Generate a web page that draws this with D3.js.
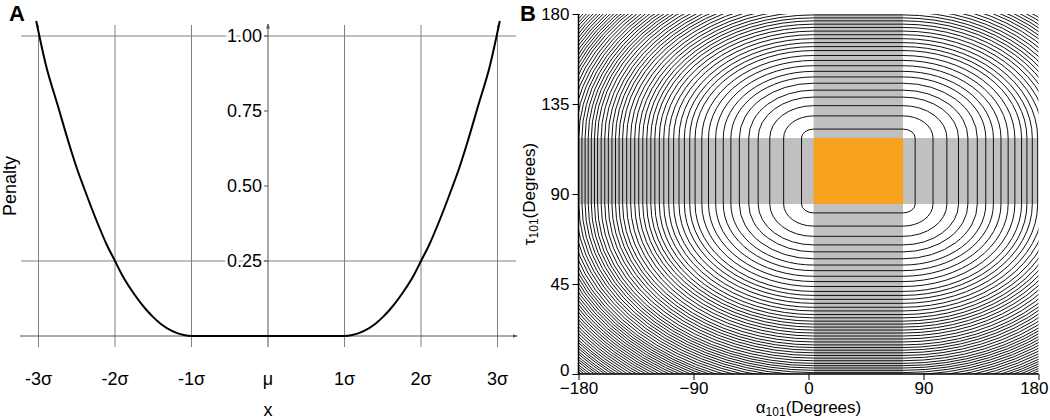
<!DOCTYPE html>
<html>
<head>
<meta charset="utf-8">
<script src="https://cdn.jsdelivr.net/npm/d3@7"></script>
<style>
  body { margin: 0; background: #fff; }
  text { font-family: "Liberation Sans", Arial, sans-serif; fill: #000; }
</style>
</head>
<body>
<script>
'use strict';

// panel A: penalty curve, x in sigma units
const sigmaTicks = [-3, -2, -1, 0, 1, 2, 3];
const sigmaLabels = ["-3σ", "-2σ", "-1σ", "μ", "1σ", "2σ", "3σ"];
const penaltyTicks = [0.25, 0.5, 0.75, 1.0];
const penaltyGrid = [0.25, 1.0];
const curveX = [-3.03, -2.9, -2.75, -2.6, -2.5, -2.4, -2.25, -2.1, -2, -1.9, -1.75, -1.6, -1.5, -1.4, -1.25, -1.1, -1,
                0, 1, 1.1, 1.25, 1.4, 1.5, 1.6, 1.75, 1.9, 2, 2.1, 2.25, 2.4, 2.5, 2.6, 2.75, 2.9, 3.03];
const curveY = [1.05, 0.90, 0.77, 0.64, 0.56, 0.49, 0.39, 0.30, 0.25, 0.20, 0.14, 0.09, 0.063, 0.04, 0.016, 0.003, 0,
                0, 0, 0.003, 0.016, 0.04, 0.063, 0.09, 0.14, 0.20, 0.25, 0.30, 0.39, 0.49, 0.56, 0.64, 0.77, 0.90, 1.05];

// panel B: restraint bands (degrees) and contour offsets (in sigma units beyond the box)
const alphaTicks = [-180, -90, 0, 90, 180];
const tauTicks = [0, 45, 90, 135, 180];
const alphaBand = [4, 74];
const tauBand = [85, 118];
const contourRadii = [0.27, 0.67, 0.98, 1.24, 1.45, 1.66, 1.85, 2.02, 2.19, 2.35, 2.50, 2.65, 2.77, 2.89,
  3.01, 3.13, 3.24, 3.35, 3.45, 3.55, 3.64, 3.73, 3.82, 3.91, 4.00, 4.09, 4.18, 4.27, 4.35, 4.43,
  4.51, 4.59, 4.67, 4.75, 4.83, 4.90, 4.97, 5.04, 5.11, 5.18, 5.25, 5.32, 5.39, 5.46, 5.53, 5.60,
  5.66, 5.72, 5.78, 5.84, 5.90, 5.96, 6.02, 6.08, 6.14, 6.20, 6.26, 6.32, 6.38, 6.44, 6.50, 6.56,
  6.62, 6.68, 6.73, 6.79, 6.84, 6.90, 6.95, 7.01, 7.06, 7.11, 7.17, 7.22, 7.27, 7.32, 7.38, 7.43];

let svg = "";

window.onload = function() {
  svg = d3.select('body')
    .append('svg')
    .attr('width', 1050)
    .attr('height', 420);

  let defs = svg.append('defs');
  defs.append('marker')
    .attr('id', 'arrow')
    .attr('viewBox', '0 0 10 10')
    .attr('refX', 9).attr('refY', 5)
    .attr('markerWidth', 5).attr('markerHeight', 5)
    .attr('orient', 'auto')
    .append('path')
    .attr('d', 'M0,1L10,5L0,9z')
    .attr('fill', '#555');

  drawPenalty();
  drawContours(defs);
};

// left panel
function drawPenalty() {
  let x = d3.scaleLinear().domain([-3, 3]).range([38.5, 497.5]);
  let y = d3.scaleLinear().domain([0, 1]).range([336, 36]);
  let g = svg.append('g');

  // vertical grid lines, which also act as x ticks
  g.selectAll('.vgrid')
    .data(sigmaTicks.filter(d => d !== 0))
    .enter().append('line')
    .attr('x1', d => x(d)).attr('x2', d => x(d))
    .attr('y1', 25).attr('y2', 347)
    .attr('stroke', '#808080').attr('stroke-width', 1);

  // horizontal grid lines
  g.selectAll('.hgrid')
    .data(penaltyGrid)
    .enter().append('line')
    .attr('x1', 21).attr('x2', 516)
    .attr('y1', d => y(d)).attr('y2', d => y(d))
    .attr('stroke', '#808080').attr('stroke-width', 1);

  // axes with arrows
  g.append('line')
    .attr('x1', 20).attr('x2', 517)
    .attr('y1', y(0)).attr('y2', y(0))
    .attr('stroke', '#555').attr('stroke-width', 1)
    .attr('marker-end', 'url(#arrow)');
  g.append('line')
    .attr('x1', x(0)).attr('x2', x(0))
    .attr('y1', 347).attr('y2', 24)
    .attr('stroke', '#555').attr('stroke-width', 1)
    .attr('marker-end', 'url(#arrow)');

  // y ticks and labels
  g.selectAll('.ytick')
    .data(penaltyTicks)
    .enter().append('line')
    .attr('x1', x(0) - 4).attr('x2', x(0))
    .attr('y1', d => y(d)).attr('y2', d => y(d))
    .attr('stroke', '#555');
  g.selectAll('.ylab')
    .data(penaltyTicks)
    .enter().append('text')
    .attr('x', x(0) - 6)
    .attr('y', d => y(d))
    .attr('dy', '0.35em')
    .attr('text-anchor', 'end')
    .style('font-size', '18px')
    .style('stroke', '#fff').style('stroke-width', 5).style('paint-order', 'stroke')
    .text(d => d3.format('.2f')(d));

  // x labels
  g.selectAll('.xlab')
    .data(sigmaTicks)
    .enter().append('text')
    .attr('x', d => x(d))
    .attr('y', 385)
    .attr('text-anchor', 'middle')
    .style('font-size', '18px')
    .text((d, i) => sigmaLabels[i]);

  // penalty curve
  let line = d3.line()
    .x((d, i) => x(curveX[i]))
    .y(d => y(d))
    .curve(d3.curveMonotoneX);
  g.append('path')
    .attr('d', line(curveY))
    .attr('fill', 'none')
    .attr('stroke', '#000')
    .attr('stroke-width', 2);

  g.append('text')
    .attr('x', x(0)).attr('y', 416)
    .attr('text-anchor', 'middle')
    .style('font-size', '18px')
    .text('x');
  g.append('text')
    .attr('transform', 'translate(16, 186)rotate(-90)')
    .attr('text-anchor', 'middle')
    .style('font-size', '18px')
    .text('Penalty');
  g.append('text')
    .attr('x', 9).attr('y', 21)
    .style('font-size', '22px').style('font-weight', 'bold')
    .text('A');
}

// right panel
function drawContours(defs) {
  let x = d3.scaleLinear().domain([-180, 180]).range([578.5, 1038.5]);
  let y = d3.scaleLinear().domain([0, 180]).range([374, 14]);
  let g = svg.append('g');

  defs.append('clipPath').attr('id', 'plotclip')
    .append('rect')
    .attr('x', x(-180)).attr('y', y(180))
    .attr('width', x(180) - x(-180)).attr('height', y(0) - y(180));

  let sa = (alphaBand[1] - alphaBand[0]) / 2;
  let st = (tauBand[1] - tauBand[0]) / 2;

  let plot = g.append('g').attr('clip-path', 'url(#plotclip)');

  // grey bands
  plot.append('rect')
    .attr('x', x(alphaBand[0])).attr('y', y(180))
    .attr('width', x(alphaBand[1]) - x(alphaBand[0]))
    .attr('height', y(0) - y(180))
    .attr('fill', '#c0c0c0');
  plot.append('rect')
    .attr('x', x(-180)).attr('y', y(tauBand[1]))
    .attr('width', x(180) - x(-180))
    .attr('height', y(tauBand[0]) - y(tauBand[1]))
    .attr('fill', '#c0c0c0');
  plot.append('rect')
    .attr('x', x(alphaBand[0])).attr('y', y(tauBand[1]))
    .attr('width', x(alphaBand[1]) - x(alphaBand[0]))
    .attr('height', y(tauBand[0]) - y(tauBand[1]))
    .attr('fill', '#f8a31f');

  // each contour is the box grown by r sigma, with elliptic corners
  let contourPath = function(r) {
    let a0 = alphaBand[0], a1 = alphaBand[1], t0 = tauBand[0], t1 = tauBand[1];
    let rx = x(a0 + r * sa) - x(a0);
    let ry = y(t1) - y(t1 + r * st);
    let arc = ' A' + rx + ',' + ry + ' 0 0 1 ';
    return 'M' + x(a0) + ',' + y(t1 + r * st) +
      ' L' + x(a1) + ',' + y(t1 + r * st) +
      arc + x(a1 + r * sa) + ',' + y(t1) +
      ' L' + x(a1 + r * sa) + ',' + y(t0) +
      arc + x(a1) + ',' + y(t0 - r * st) +
      ' L' + x(a0) + ',' + y(t0 - r * st) +
      arc + x(a0 - r * sa) + ',' + y(t0) +
      ' L' + x(a0 - r * sa) + ',' + y(t1) +
      arc + x(a0) + ',' + y(t1 + r * st) + 'Z';
  };

  plot.selectAll('.contour')
    .data(contourRadii)
    .enter().append('path')
    .attr('d', contourPath)
    .attr('fill', 'none')
    .attr('stroke', '#111')
    .attr('stroke-width', 1);

  // axes
  let xAxis = d3.axisBottom(x).tickValues(alphaTicks).tickSize(6).tickFormat(d3.format('d'));
  let gx = g.append('g').attr('transform', 'translate(0,' + y(0) + ')').call(xAxis);
  gx.select('.domain').attr('d', 'M' + x(-180) + ',0H' + x(180)).attr('stroke-width', 1.5);
  gx.selectAll('text').style('font-size', '17px').attr('y', 8)
    .style('font-family', '"Liberation Sans", Arial, sans-serif');
  // last label sits flush with the right edge
  gx.selectAll('text').filter(d => d === 180)
    .attr('text-anchor', 'end').attr('x', 1048 - x(180));

  let yAxis = d3.axisLeft(y).tickValues(tauTicks).tickSize(6).tickFormat(d3.format('d'));
  let gy = g.append('g').attr('transform', 'translate(' + x(-180) + ',0)').call(yAxis);
  gy.select('.domain').attr('d', 'M0,' + y(0) + 'V' + y(180)).attr('stroke-width', 1.5);
  gy.selectAll('text').style('font-size', '17px')
    .style('font-family', '"Liberation Sans", Arial, sans-serif');
  gy.selectAll('text').filter(d => d === 0).attr('dy', '0.1em');

  // axis titles
  let xt = g.append('text')
    .attr('x', x(0)).attr('y', 413)
    .attr('text-anchor', 'middle')
    .style('font-size', '17px');
  xt.append('tspan').text('α');
  xt.append('tspan').attr('dy', 3).style('font-size', '12px').text('101');
  xt.append('tspan').attr('dy', -3).text('(Degrees)');

  let yt = g.append('text')
    .attr('transform', 'translate(535,' + y(90) + ')rotate(-90)')
    .attr('text-anchor', 'middle')
    .style('font-size', '17px');
  yt.append('tspan').text('τ');
  yt.append('tspan').attr('dy', 3).style('font-size', '12px').text('101');
  yt.append('tspan').attr('dy', -3).text('(Degrees)');

  g.append('text')
    .attr('x', 520).attr('y', 21)
    .style('font-size', '22px').style('font-weight', 'bold')
    .text('B');
}
</script>
</body>
</html>
